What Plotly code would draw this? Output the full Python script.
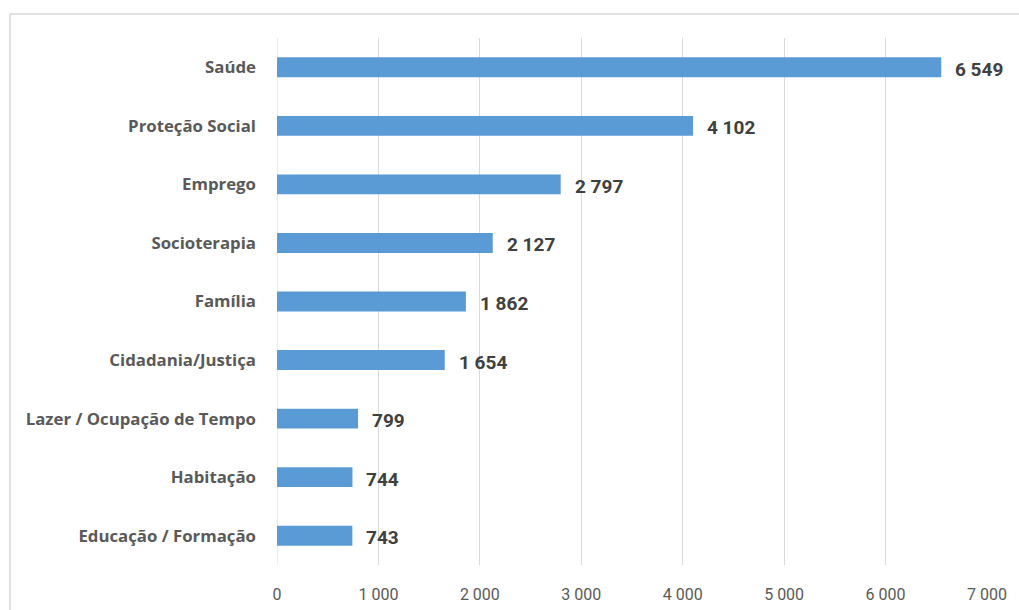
import plotly.graph_objects as go

# Categories listed top to bottom, with their totals
categories = [
    "Saúde",
    "Proteção Social",
    "Emprego",
    "Socioterapia",
    "Família",
    "Cidadania/Justiça",
    "Lazer / Ocupação de Tempo",
    "Habitação",
    "Educação / Formação",
]
values = [6549, 4102, 2797, 2127, 1862, 1654, 799, 744, 743]
x_ticks = [0, 1000, 2000, 3000, 4000, 5000, 6000, 7000]


def fmt(v):
    return f"{v:,}".replace(",", " ")


bar_color = "#5B9BD5"
text_color = "#595959"
grid_color = "#D9D9D9"

fig = go.Figure(
    go.Bar(
        x=values,
        y=categories,
        orientation="h",
        marker=dict(color=bar_color, line=dict(width=0)),
        width=0.34,
        hoverinfo="x+y",
    )
)

# Bold value labels placed just past the end of each bar
for cat, v in zip(categories, values):
    fig.add_annotation(
        x=v, y=cat, text=f"<b>{fmt(v)}</b>", showarrow=False,
        xanchor="left", yanchor="middle", xshift=12, yshift=-2,
        font=dict(family="Roboto", size=19, color="#404040"),
    )

# Light frame around the chart area (top and left edges visible)
L, R, T, B = 277, 32, 38, 45
W, H = 1019 - L - R, 610 - T - B
left_x = (10 - L) / W
top_y = 1 + (T - 14) / H
fig.add_shape(type="line", xref="paper", yref="paper",
              x0=left_x, x1=2, y0=top_y, y1=top_y,
              line=dict(color=grid_color, width=1.5))
fig.add_shape(type="line", xref="paper", yref="paper",
              x0=left_x, x1=left_x, y0=-1, y1=top_y,
              line=dict(color=grid_color, width=1.5))

fig.update_layout(
    width=1019, height=610,
    margin=dict(l=L, r=R, t=T, b=B),
    paper_bgcolor="white", plot_bgcolor="white",
    separators=". ",
    showlegend=False,
    font=dict(family="Roboto", color=text_color),
    xaxis=dict(
        range=[0, 7000], tickvals=x_ticks,
        ticktext=[fmt(t) for t in x_ticks],
        showgrid=True, gridcolor=grid_color, gridwidth=1,
        zeroline=False, showline=False, ticks="",
        tickfont=dict(family="Roboto", size=16, color=text_color),
        ticklabelstandoff=18, automargin=False,
    ),
    yaxis=dict(
        categoryorder="array", categoryarray=categories[::-1],
        tickvals=categories,
        ticktext=[f"<b>{c}</b>" for c in categories],
        showgrid=False, zeroline=False, showline=False, ticks="",
        tickfont=dict(family="Open Sans", size=16.8, color=text_color),
        ticklabelstandoff=20, automargin=False,
    ),
)

# Vertical line at zero drawn in the grid colour
fig.add_shape(type="line", xref="x", yref="paper", x0=0, x1=0, y0=0, y1=1,
              line=dict(color=grid_color, width=1), layer="below")

fig.write_html("out.html")
